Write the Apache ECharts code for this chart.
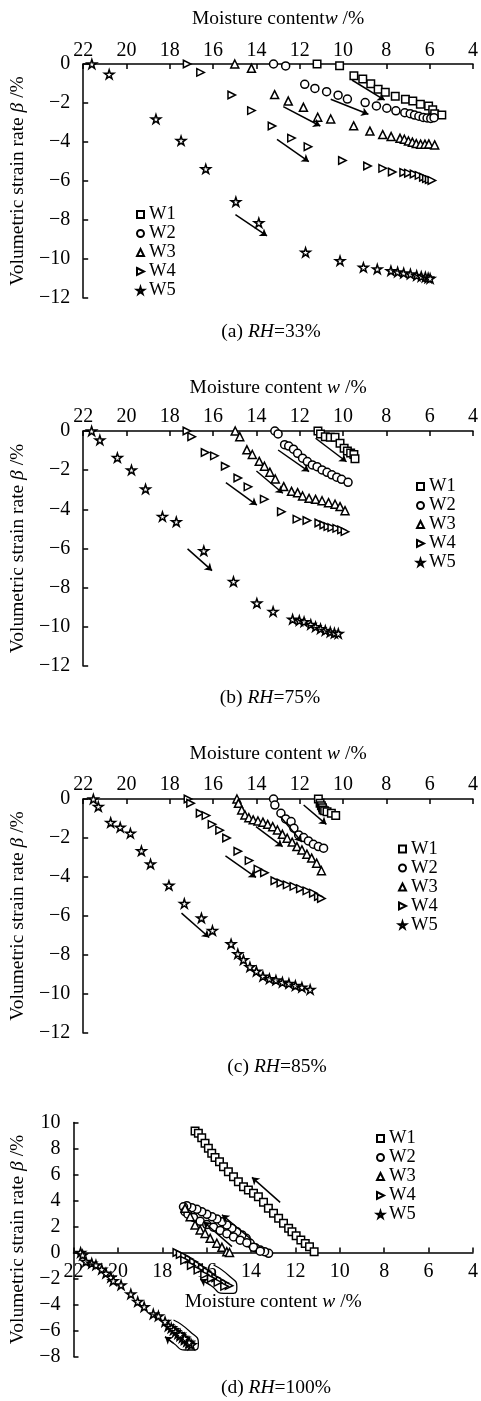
<!DOCTYPE html>
<html><head><meta charset="utf-8">
<script src="https://cdn.jsdelivr.net/npm/echarts@6/dist/echarts.min.js"></script>
<style>html,body{margin:0;padding:0;background:#fff}#c{width:481px;height:1401px}</style>
</head><body><div id="c"></div>
<script>
// ---------------- DATA (w %, beta %) ----------------
const seriesNames = ['W1','W2','W3','W4','W5'];
const xTicks = {min:4, max:22, step:2};

// (a) RH=33%
const a_W1 = [[11.2,0],[10.16,-0.09],[9.5,-0.6],[9.09,-0.77],[8.72,-1.01],[8.38,-1.29],[8.05,-1.45],[7.59,-1.65],[7.12,-1.81],[6.78,-1.9],[6.43,-2.07],[6.05,-2.15],[5.86,-2.34],[5.77,-2.55],[5.44,-2.62]];
const a_W2 = [[13.21,0],[12.65,-0.1],[11.77,-1.04],[11.3,-1.25],[10.76,-1.42],[10.23,-1.6],[9.8,-1.8],[8.98,-1.98],[8.46,-2.15],[7.98,-2.27],[7.56,-2.4],[7.15,-2.5],[6.9,-2.55],[6.7,-2.62],[6.5,-2.68],[6.3,-2.74],[6.12,-2.77],[5.95,-2.79],[5.8,-2.75]];
const a_W3 = [[15.0,0],[14.23,-0.22],[13.16,-1.57],[12.53,-1.9],[11.83,-2.22],[11.17,-2.73],[10.57,-2.82],[9.51,-3.17],[8.76,-3.44],[8.17,-3.62],[7.78,-3.72],[7.37,-3.81],[7.17,-3.86],[6.98,-3.95],[6.8,-4.01],[6.62,-4.08],[6.42,-4.11],[6.22,-4.11],[6.04,-4.1],[5.77,-4.15]];
const a_W4 = [[17.2,0],[16.58,-0.43],[15.14,-1.59],[14.23,-2.39],[13.28,-3.18],[12.38,-3.8],[11.62,-4.24],[10.03,-4.95],[8.87,-5.23],[8.17,-5.35],[7.73,-5.54],[7.2,-5.56],[6.98,-5.6],[6.72,-5.64],[6.49,-5.71],[6.29,-5.81],[6.15,-5.88],[6.02,-5.93],[5.9,-5.97]];
const a_W5 = [[21.6,0],[20.8,-0.53],[18.64,-2.82],[17.48,-3.93],[16.34,-5.38],[14.95,-7.06],[13.89,-8.14],[11.73,-9.66],[10.14,-10.09],[9.06,-10.43],[8.42,-10.51],[7.79,-10.6],[7.48,-10.67],[7.2,-10.72],[6.89,-10.77],[6.6,-10.85],[6.39,-10.9],[6.2,-10.92],[6.07,-10.97],[5.98,-11.0]];
const a_arrows = [[9.59,-0.82,8.08,-1.85],[10.57,-1.81,8.83,-2.58],[12.76,-2.19,11.05,-3.18],[13.05,-3.86,11.58,-5.01],[14.97,-7.72,13.51,-8.82]];

// (b) RH=75%
const b_W1 = [[11.16,0],[11.04,-0.15],[10.82,-0.29],[10.59,-0.32],[10.37,-0.32],[10.14,-0.63],[9.95,-0.88],[9.8,-1.02],[9.65,-1.12],[9.5,-1.2],[9.45,-1.42]];
const b_W2 = [[13.15,0],[13.0,-0.15],[12.7,-0.7],[12.51,-0.77],[12.29,-0.93],[12.1,-1.14],[11.87,-1.39],[11.65,-1.56],[11.42,-1.73],[11.2,-1.82],[10.97,-1.99],[10.74,-2.11],[10.52,-2.24],[10.29,-2.36],[10.07,-2.47],[9.77,-2.62]];
const b_W3 = [[14.98,0],[14.77,-0.29],[14.44,-0.96],[14.19,-1.2],[13.87,-1.55],[13.63,-1.8],[13.38,-2.1],[13.13,-2.45],[12.74,-2.84],[12.38,-3.08],[12.1,-3.15],[11.87,-3.32],[11.57,-3.44],[11.27,-3.49],[10.97,-3.56],[10.67,-3.66],[10.37,-3.74],[10.14,-3.86],[9.91,-4.07]];
const b_W4 = [[17.21,0],[16.99,-0.29],[16.37,-1.1],[15.94,-1.27],[15.44,-1.8],[14.86,-2.4],[14.39,-2.85],[13.64,-3.48],[12.85,-4.12],[12.13,-4.5],[11.67,-4.57],[11.12,-4.7],[10.89,-4.8],[10.7,-4.88],[10.52,-4.93],[10.29,-4.97],[10.07,-5.05],[9.91,-5.14]];
const b_W5 = [[21.61,0],[21.23,-0.46],[20.42,-1.36],[19.77,-1.99],[19.12,-2.96],[18.34,-4.37],[17.7,-4.63],[16.43,-6.12],[15.06,-7.69],[13.98,-8.79],[13.23,-9.22],[12.33,-9.61],[12.02,-9.68],[11.8,-9.74],[11.49,-9.88],[11.27,-10.0],[11.04,-10.1],[10.82,-10.19],[10.59,-10.26],[10.4,-10.32],[10.22,-10.34]];
const b_arrows = [[11.27,-0.37,9.84,-1.57],[13.0,-0.97,11.57,-2.07],[14.0,-2.04,12.78,-3.18],[15.41,-2.64,13.98,-3.78],[17.18,-6.02,16.05,-7.13]];

// (c) RH=85%
const c_W1 = [[11.14,0],[11.06,-0.22],[11.0,-0.35],[10.95,-0.45],[10.92,-0.56],[10.85,-0.6],[10.74,-0.65],[10.54,-0.73],[10.34,-0.85]];
const c_W2 = [[13.21,0],[13.15,-0.31],[12.87,-0.73],[12.65,-1.02],[12.4,-1.16],[12.27,-1.5],[12.05,-1.84],[11.82,-1.98],[11.6,-2.15],[11.37,-2.32],[11.14,-2.44],[10.9,-2.52]];
const c_W3 = [[14.9,0],[14.83,-0.22],[14.68,-0.56],[14.53,-0.82],[14.35,-0.96],[14.15,-1.07],[13.93,-1.13],[13.7,-1.19],[13.48,-1.3],[13.25,-1.42],[13.03,-1.59],[12.8,-1.81],[12.58,-2.01],[12.35,-2.21],[12.13,-2.44],[11.9,-2.61],[11.67,-2.83],[11.45,-3.03],[11.22,-3.29],[11.0,-3.68]];
const c_W4 = [[17.16,0],[17.04,-0.22],[16.6,-0.73],[16.33,-0.85],[16.05,-1.3],[15.7,-1.6],[15.38,-2.0],[14.86,-2.68],[14.34,-3.16],[13.93,-3.6],[13.63,-3.78],[13.15,-4.19],[12.87,-4.31],[12.58,-4.4],[12.27,-4.48],[11.97,-4.6],[11.67,-4.71],[11.37,-4.83],[11.14,-5.0],[11.0,-5.1]];
const c_W5 = [[21.53,0],[21.3,-0.39],[20.73,-1.21],[20.29,-1.45],[19.82,-1.76],[19.31,-2.66],[18.89,-3.33],[18.04,-4.43],[17.33,-5.36],[16.54,-6.1],[16.03,-6.75],[15.17,-7.43],[14.86,-7.94],[14.6,-8.24],[14.3,-8.61],[14.0,-8.83],[13.7,-9.09],[13.4,-9.22],[13.1,-9.29],[12.8,-9.4],[12.5,-9.46],[12.2,-9.57],[11.9,-9.65],[11.52,-9.77]];
const c_arrows = [[11.82,-0.31,10.77,-1.3],[12.9,-0.9,11.9,-2.2],[14.02,-1.42,12.79,-2.44],[15.43,-2.92,14.02,-4.02],[17.46,-5.85,16.18,-7.1]];

// (d) RH=100%
const d_W1 = [[16.53,9.35],[16.38,9.17],[16.23,8.83],[16.08,8.4],[15.93,8.01],[15.78,7.63],[15.63,7.3],[15.43,6.98],[15.25,6.6],[15.03,6.22],[14.8,5.83],[14.58,5.45],[14.35,5.06],[14.13,4.81],[13.9,4.55],[13.68,4.29],[13.45,3.86],[13.23,3.4],[13.0,3.02],[12.77,2.63],[12.55,2.25],[12.32,1.86],[12.17,1.6],[11.98,1.29],[11.77,0.96],[11.57,0.7],[11.38,0.45],[11.17,0.06]];
const d_W2 = [[13.22,-0.06],[13.4,0.06],[13.6,0.19],[13.82,0.37],[14.05,0.71],[14.23,1.09],[14.42,1.35],[14.65,1.6],[14.87,1.86],[15.1,2.12],[15.32,2.37],[15.55,2.58],[15.77,2.75],[16.0,2.94],[16.23,3.14],[16.45,3.32],[16.68,3.45],[16.9,3.6],[17.05,3.52],[16.98,3.14],[16.85,2.95],[16.6,2.7],[16.3,2.4],[16.0,2.15],[15.7,1.95],[15.4,1.7],[15.1,1.45],[14.8,1.2],[14.5,0.95],[14.2,0.75],[13.9,0.4],[13.6,0.1]];
const d_W3 = [[16.98,3.4],[16.75,2.75],[16.53,2.12],[16.3,1.73],[16.08,1.47],[15.85,1.09],[15.55,0.71],[15.32,0.4],[15.1,0.06],[14.98,0]];
const d_W4 = [[17.35,0],[17.2,-0.15],[17.0,-0.3],[16.8,-0.5],[16.6,-0.72],[16.4,-0.95],[16.2,-1.2],[16.0,-1.45],[15.8,-1.7],[15.6,-1.95],[15.4,-2.15],[15.2,-2.35],[15.0,-2.55],[15.2,-2.6],[15.5,-2.3],[15.8,-2.0],[16.1,-1.7],[16.4,-1.35],[16.7,-1.0],[17.0,-0.6]];
const d_W5 = [[21.68,0],[21.59,-0.19],[21.44,-0.7],[21.18,-0.83],[20.99,-0.96],[20.73,-1.29],[20.54,-1.6],[20.32,-1.91],[20.21,-2.17],[19.86,-2.5],[19.42,-3.19],[19.11,-3.78],[18.82,-4.17],[18.41,-4.73],[18.18,-4.88],[17.88,-5.32],[17.73,-5.65],[17.6,-5.8],[17.5,-5.95],[17.4,-6.1],[17.3,-6.25],[17.2,-6.4],[17.1,-6.55],[17.0,-6.7],[16.9,-6.85],[16.8,-7.0],[16.7,-7.1],[16.8,-6.9],[17.0,-6.6],[17.2,-6.3]];
const d_arrows = [[12.7,3.86,13.97,5.78],[13.97,0.96,15.32,2.9],[14.87,0.45,16.15,2.37]];
const d_loopW4 = [[15.7,-0.96],[14.95,-1.86],[14.65,-2.63],[14.8,-3.14],[15.25,-3.14],[15.85,-2.5],[16.3,-2.06]];
const d_loopW5 = [[17.5,-5.19],[16.75,-6.09],[16.38,-6.98],[16.53,-7.5],[16.98,-7.5],[17.5,-6.98],[17.88,-6.48]];

const captions = ['(a) ', '(b) ', '(c) ', '(d) '];
const rhValues = ['=33%', '=75%', '=85%', '=100%'];

// ---------------- STYLE ----------------
const FONT = 'Liberation Serif';
const TICK_FS = 20, NAME_FS = 19.5, CAP_FS = 19.5, LEG_FS = 18.5;
const SYM = {W1:'rect', W2:'circle', W3:'triangle', W4:'path://M0,0L10,5L0,10Z',
  W5:'path://M50,0L61,35L98,35L68,57L79,91L50,70L21,91L32,57L2,35L39,35Z'};
const SIZE = {W1:7.5, W2:8, W3:8, W4:7.5, W5:9.5};
const minus = v => String(v).replace('-', '\u2212');
const richN = (fs) => ({ n:{fontFamily:FONT,fontSize:fs,color:'#000'}, i:{fontFamily:FONT,fontSize:fs,color:'#000',fontStyle:'italic'} });

const grids = [
  {left:74, top:64, width:399, height:234},
  {left:79, top:431, width:398, height:235},
  {left:74.5, top:799, width:399, height:234},
  {left:73.5, top:1122.5, width:400, height:234},
  {left:73.5, top:1122.5, width:400, height:130}   // frame whose lower edge is beta = 0 of panel (d)
];
const yRanges = [[-12,0],[-12,0],[-12,0],[-8,10]];
const xNames = ['{n|Moisture content}{i|w}{n| /%}','{n|Moisture content }{i|w}{n| /%}','{n|Moisture content }{i|w}{n| /%}','{n|Moisture content }{i|w}{n| /%}'];
const xNameGap = [35, 33, 35, 39.5];
const xLabelMargin = [3, 4.5, 4.5, 9];
const legendPos = [
  {left:131, top:200, lh:14.3},
  {left:411, top:472, lh:17},
  {left:393, top:834.5, lh:17.7},
  {left:371, top:1124, lh:16.4}
];
const captionPos = [[271,332],[270,698],[277,1067],[276,1388]];

const axisLine = {onZero:false, lineStyle:{color:'#000', width:1.5}};
const axisTick = {inside:true, length:5, lineStyle:{color:'#000', width:1.5}};
const xBase = (gi) => ({gridIndex:gi, type:'value', min:xTicks.min, max:xTicks.max, interval:xTicks.step, inverse:true, splitLine:{show:false}});

const xAxes = [0,1,2].map(i=>Object.assign(xBase(i), {
  position:'top', name:xNames[i], nameLocation:'middle', nameGap:xNameGap[i],
  nameTextStyle:{rich:richN(NAME_FS)}, axisLine, axisTick,
  axisLabel:{margin:xLabelMargin[i], fontFamily:FONT, fontSize:TICK_FS, color:'#000', showMinLabel:true, showMaxLabel:true}
}));
xAxes.push(Object.assign(xBase(3), {show:false}));
xAxes.push(Object.assign(xBase(4), {
  position:'bottom', name:xNames[3], nameLocation:'middle', nameGap:xNameGap[3],
  nameTextStyle:{rich:richN(NAME_FS)}, axisLine, axisTick,
  axisLabel:{margin:xLabelMargin[3], fontFamily:FONT, fontSize:TICK_FS, color:'#000', showMinLabel:true, showMaxLabel:true}
}));
const yAxes = [0,1,2,3].map(i=>({
  gridIndex:i, type:'value', min:yRanges[i][0], max:yRanges[i][1], interval:2,
  name:'{n|Volumetric strain rate }{i|\u03b2}{n| /%}', nameLocation:'middle', nameRotate:90, nameGap:42,
  nameTextStyle:{rich:richN(NAME_FS)},
  axisLine, axisTick, splitLine:{show:false},
  axisLabel:{margin:13, fontFamily:FONT, fontSize:TICK_FS, color:'#000', formatter:minus}
}));
yAxes.push({gridIndex:4, type:'value', min:0, max:10, show:false});

const panels = [
  [a_W1,a_W2,a_W3,a_W4,a_W5],
  [b_W1,b_W2,b_W3,b_W4,b_W5],
  [c_W1,c_W2,c_W3,c_W4,c_W5],
  [d_W1,d_W2,d_W3,d_W4,d_W5]
];
const arrows = [a_arrows,b_arrows,c_arrows,d_arrows];

const series = [];
panels.forEach((sets,gi)=>{
  sets.forEach((data,k)=>{
    const name = seriesNames[k];
    series.push({type:'scatter', name, data, xAxisIndex:gi, yAxisIndex:gi,
      symbol:SYM[name], symbolSize:SIZE[name], symbolKeepAspect:true,
      itemStyle:{color:'#fff', borderColor:'#000', borderWidth:1.5, opacity:1},
      emphasis:{disabled:true}, z:3, animation:false});
  });
  series.push({type:'line', data:[], xAxisIndex:gi, yAxisIndex:gi, silent:true, animation:false,
    markLine:{silent:true, animation:false, symbol:['none','arrow'], symbolSize:7, label:{show:false},
      emphasis:{disabled:true},
      lineStyle:{color:'#000', width:1.5, type:'solid'},
      data: arrows[gi].map(a=>[{coord:[a[0],a[1]]},{coord:[a[2],a[3]]}])}});
});
[d_loopW4, d_loopW5].forEach(loop=>{
  const n = loop.length;
  series.push({type:'line', data:loop, xAxisIndex:3, yAxisIndex:3, smooth:0.6, symbol:'none', silent:true, animation:false,
    lineStyle:{color:'#000', width:1.3}, z:4,
    markLine:{silent:true, animation:false, symbol:['none','arrow'], symbolSize:7, label:{show:false},
      lineStyle:{color:'#000', width:1.3, type:'solid'},
      data:[[{coord:loop[n-2]},{coord:loop[n-1]}]]}});
});

const legends = legendPos.map((p,i)=>({
  orient:'vertical', left:p.left, top:p.top, itemWidth:7, itemHeight:7, itemGap:0,
  selectedMode:false, data:seriesNames,
  textStyle:{fontFamily:FONT, fontSize:LEG_FS, color:'#000', lineHeight:p.lh}
}));

const graphic = captionPos.map((p,i)=>({
  type:'text', x:p[0], y:p[1], silent:true,
  style:{text:'{n|'+captions[i]+'}{i|RH}{n|'+rhValues[i]+'}', rich:{
      n:{fontFamily:FONT,fontSize:CAP_FS,fill:'#000'}, i:{fontFamily:FONT,fontSize:CAP_FS,fill:'#000',fontStyle:'italic'}},
    align:'center', verticalAlign:'middle', textAlign:'center', textVerticalAlign:'middle'}
}));

const chart = echarts.init(document.getElementById('c'), null, {renderer:'canvas'});
chart.setOption({
  animation:false, backgroundColor:'#fff',
  grid:grids, xAxis:xAxes, yAxis:yAxes, series, legend:legends, graphic
});
</script></body></html>
